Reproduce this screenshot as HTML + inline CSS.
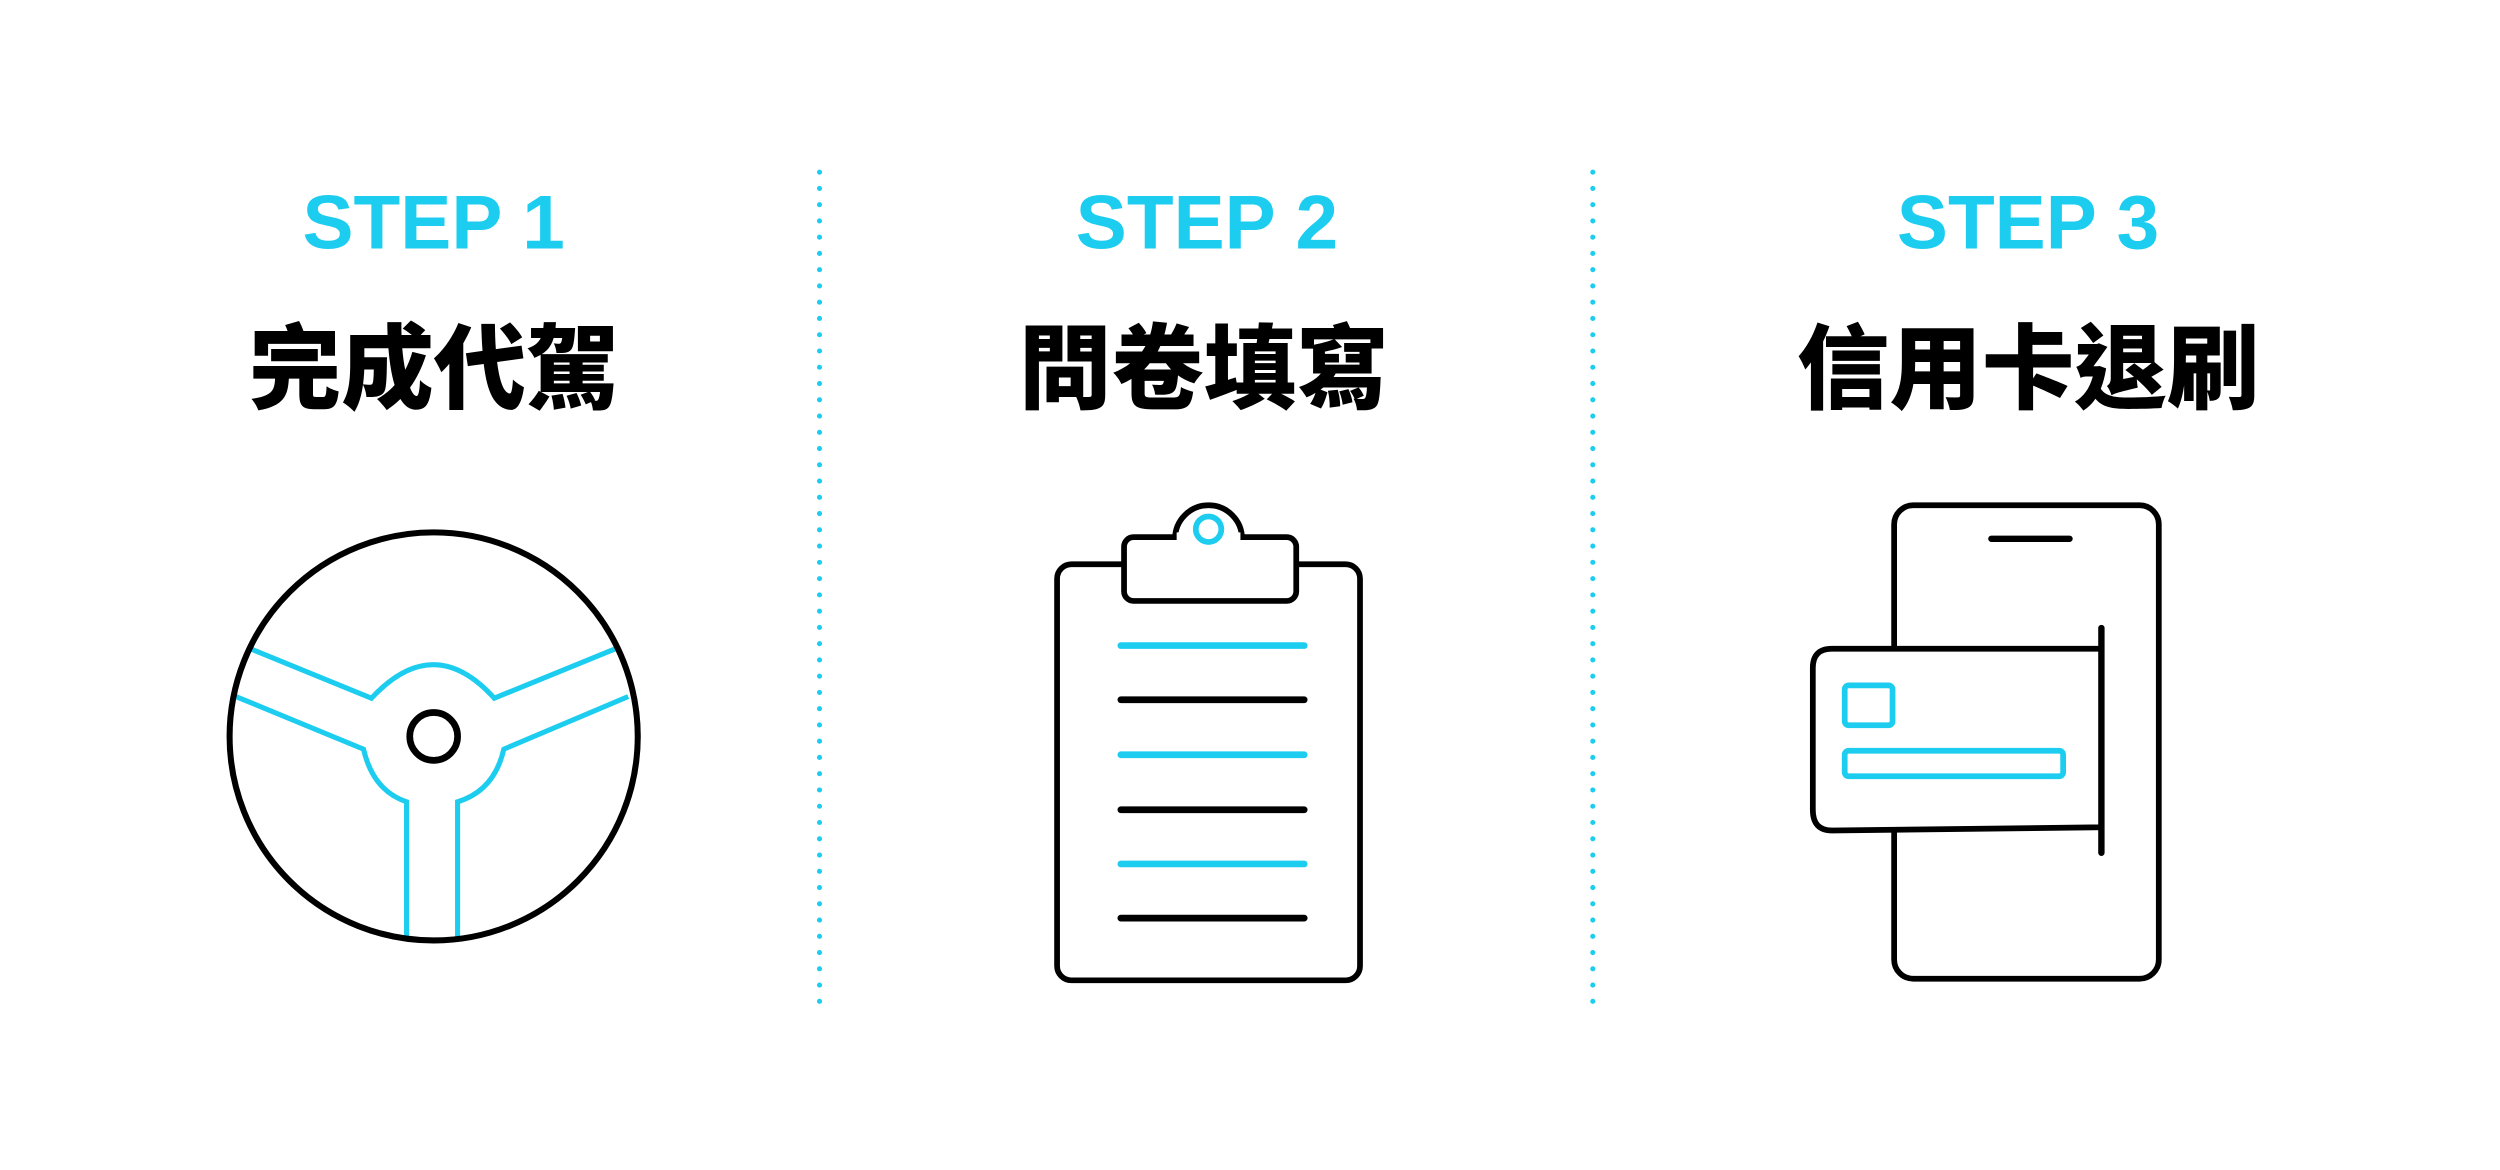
<!DOCTYPE html>
<html><head><meta charset="utf-8"><style>
html,body{margin:0;padding:0;background:#fff;}
svg{display:block;}
.s{font-family:"Liberation Sans",sans-serif;font-weight:bold;fill:#1ccdf0;font-size:48px;text-anchor:middle;}
.t{font-family:"Liberation Sans","Noto Sans CJK TC",sans-serif;font-weight:900;fill:#000;font-size:58px;text-anchor:middle;}
</style></head><body>
<svg width="2500" height="1170" viewBox="0 0 1568 734" preserveAspectRatio="none">
<rect width="1568" height="734" fill="#fff"/>
<text class="s" x="272" y="156">STEP 1</text>
<text class="s" x="757" y="156">STEP 2</text>
<text class="s" x="1272" y="156">STEP 3</text>
<text class="t" x="272" y="252">完成代駕</text>
<text class="t" x="755" y="252">問卷填寫</text>
<text class="t" x="1272" y="252">信用卡退刷</text>
<g stroke="#1ccdf0" stroke-width="3.2" stroke-linecap="round" stroke-dasharray="0 10.2">
<line x1="514" y1="108" x2="514" y2="632"/>
<line x1="999" y1="108" x2="999" y2="632"/>
</g>
<g fill="none" stroke="#1ccdf0" stroke-width="3.2">
<path d="M157 407 L233 438 Q272 396 310 438 L386 407"/>
<path d="M148 437 L228 470 Q234 496 255 503 L255 590"/>
<path d="M394 437 L316 470 Q310 496 287 503 L287 590"/>
</g>
<circle cx="272" cy="462" r="128" fill="none" stroke="#000" stroke-width="3.8"/>
<circle cx="272" cy="462" r="15" fill="none" stroke="#000" stroke-width="4.2"/>
<rect x="663" y="354" width="190" height="261" rx="9" fill="none" stroke="#000" stroke-width="3.6"/>
<path d="M737 338 A21 21 0 0 1 779 338" fill="#fff" stroke="#000" stroke-width="3.6"/>
<rect x="705" y="337" width="108" height="40" rx="6" fill="#fff" stroke="#000" stroke-width="3.6"/>
<rect x="738" y="334" width="40" height="6" fill="#fff"/>
<circle cx="758" cy="332" r="8" fill="none" stroke="#1ccdf0" stroke-width="3.6"/>
<g stroke-width="4.2" stroke-linecap="round">
<line x1="703" y1="405" x2="818" y2="405" stroke="#1ccdf0"/>
<line x1="703" y1="439" x2="818" y2="439" stroke="#000"/>
<line x1="703" y1="473.5" x2="818" y2="473.5" stroke="#1ccdf0"/>
<line x1="703" y1="508" x2="818" y2="508" stroke="#000"/>
<line x1="703" y1="542" x2="818" y2="542" stroke="#1ccdf0"/>
<line x1="703" y1="576" x2="818" y2="576" stroke="#000"/>
</g>
<rect x="1188" y="317" width="166" height="297" rx="12" fill="none" stroke="#000" stroke-width="3.6"/>
<line x1="1249" y1="338" x2="1298" y2="338" stroke="#000" stroke-width="4" stroke-linecap="round"/>
<path d="M1318 407 L1149 407 Q1137 407 1137 419 L1137 508 Q1137 521 1149 521 L1318 519 Z" fill="#fff" stroke="#000" stroke-width="3.6"/>
<line x1="1318" y1="394" x2="1318" y2="535" stroke="#000" stroke-width="4" stroke-linecap="round"/>
<rect x="1157" y="430" width="30" height="25" rx="2.5" fill="none" stroke="#1ccdf0" stroke-width="3.6"/>
<rect x="1157" y="471" width="137" height="16" rx="2.5" fill="none" stroke="#1ccdf0" stroke-width="3.6"/>
</svg>
</body></html>
